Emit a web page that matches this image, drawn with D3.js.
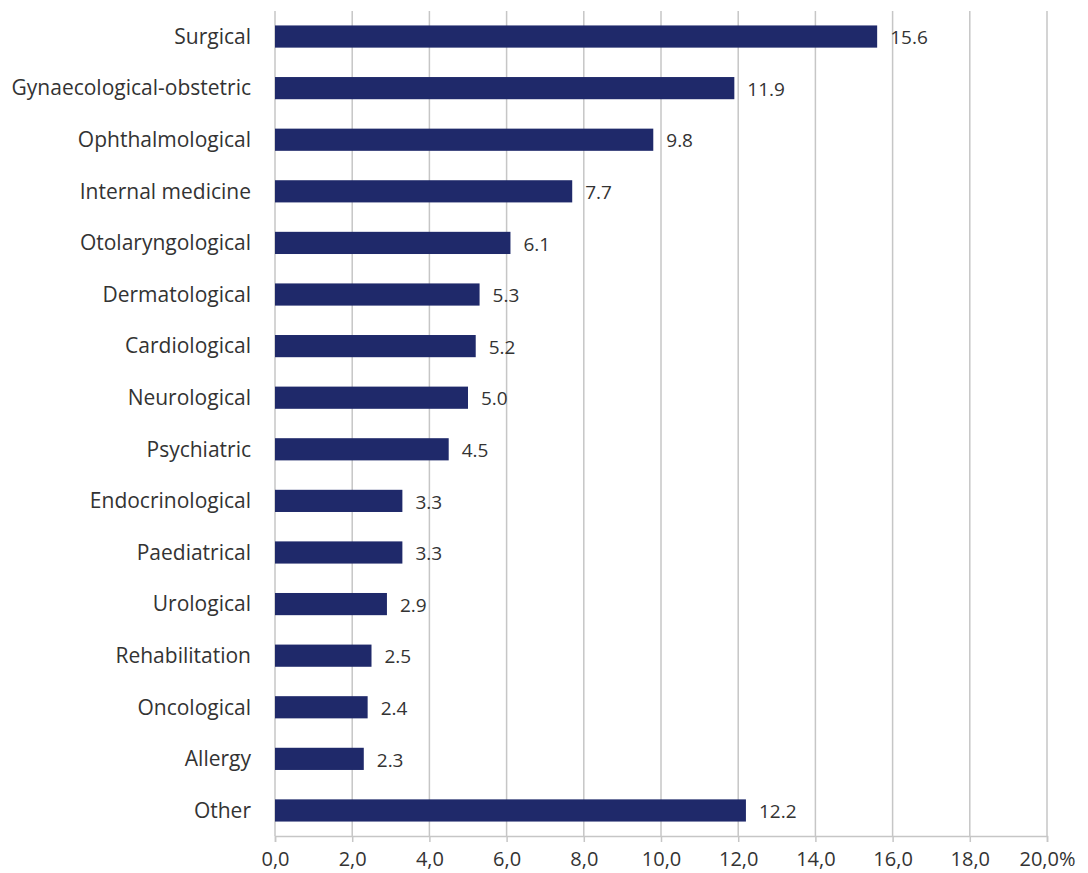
<!DOCTYPE html>
<html>
<head>
<meta charset="utf-8">
<script src="https://cdn.jsdelivr.net/npm/d3@7"></script>
<style>
  body { margin: 0; background: #fff; }
  text { font-family: "Open Sans", sans-serif; }
</style>
</head>
<body>
<div id="chart"></div>
<script>
// data
var categories = ["Surgical", "Gynaecological-obstetric", "Ophthalmological", "Internal medicine",
  "Otolaryngological", "Dermatological", "Cardiological", "Neurological", "Psychiatric",
  "Endocrinological", "Paediatrical", "Urological", "Rehabilitation", "Oncological", "Allergy", "Other"];
var values = [15.6, 11.9, 9.8, 7.7, 6.1, 5.3, 5.2, 5.0, 4.5, 3.3, 3.3, 2.9, 2.5, 2.4, 2.3, 12.2];
var xTicks = [0, 2, 4, 6, 8, 10, 12, 14, 16, 18, 20];

var width = 1088, height = 873;
var margin = { left: 275, right: 41, top: 11, bottom: 37 };

var svg = d3.select("#chart").append("svg")
  .attr("width", width)
  .attr("height", height);

var x = d3.scaleLinear()
  .domain([0, 20])
  .range([margin.left, width - margin.right]);

var y = d3.scaleBand()
  .domain(categories)
  .range([margin.top, height - margin.bottom])
  .paddingInner(0.57)
  .paddingOuter(0.28);

// grid lines
svg.append("g").selectAll("line")
  .data(xTicks)
  .enter().append("line")
  .attr("x1", function(d) { return x(d); })
  .attr("x2", function(d) { return x(d); })
  .attr("y1", margin.top)
  .attr("y2", height - margin.bottom)
  .attr("stroke", "#c6c6c6")
  .attr("stroke-width", 1.5);

// bottom axis
var xAxis = d3.axisBottom(x)
  .tickValues(xTicks)
  .tickSize(6)
  .tickPadding(10)
  .tickFormat(function(d) { return d3.format(".1f")(d).replace(".", ",") + (d === 20 ? "%" : ""); });

var ax = svg.append("g")
  .attr("transform", "translate(0," + (height - margin.bottom) + ")")
  .call(xAxis);
ax.select(".domain").attr("stroke", "#c6c6c6").attr("stroke-width", 1.5);
ax.selectAll(".tick line").attr("stroke", "#c6c6c6").attr("stroke-width", 1.5);
ax.selectAll(".tick text")
  .attr("fill", "#333")
  .style("font-size", "20px")
  .style("font-family", "'Open Sans', sans-serif");

// bars
svg.append("g").selectAll("rect")
  .data(categories)
  .enter().append("rect")
  .attr("x", x(0))
  .attr("y", function(d) { return y(d); })
  .attr("width", function(d, i) { return x(values[i]) - x(0); })
  .attr("height", y.bandwidth())
  .attr("fill", "#1f296a");

// value labels
svg.append("g").selectAll("text")
  .data(categories)
  .enter().append("text")
  .attr("x", function(d, i) { return x(values[i]) + 13; })
  .attr("y", function(d) { return y(d) + y.bandwidth() / 2 + 1; })
  .attr("dy", "0.35em")
  .attr("fill", "#333")
  .style("font-size", "19px")
  .text(function(d, i) { return values[i].toFixed(1); });

// category labels
svg.append("g").selectAll("text")
  .data(categories)
  .enter().append("text")
  .attr("x", 251)
  .attr("y", function(d) { return y(d) + y.bandwidth() / 2; })
  .attr("dy", "0.35em")
  .attr("text-anchor", "end")
  .attr("fill", "#333")
  .style("font-size", "21px")
  .text(function(d) { return d; });
</script>
</body>
</html>
